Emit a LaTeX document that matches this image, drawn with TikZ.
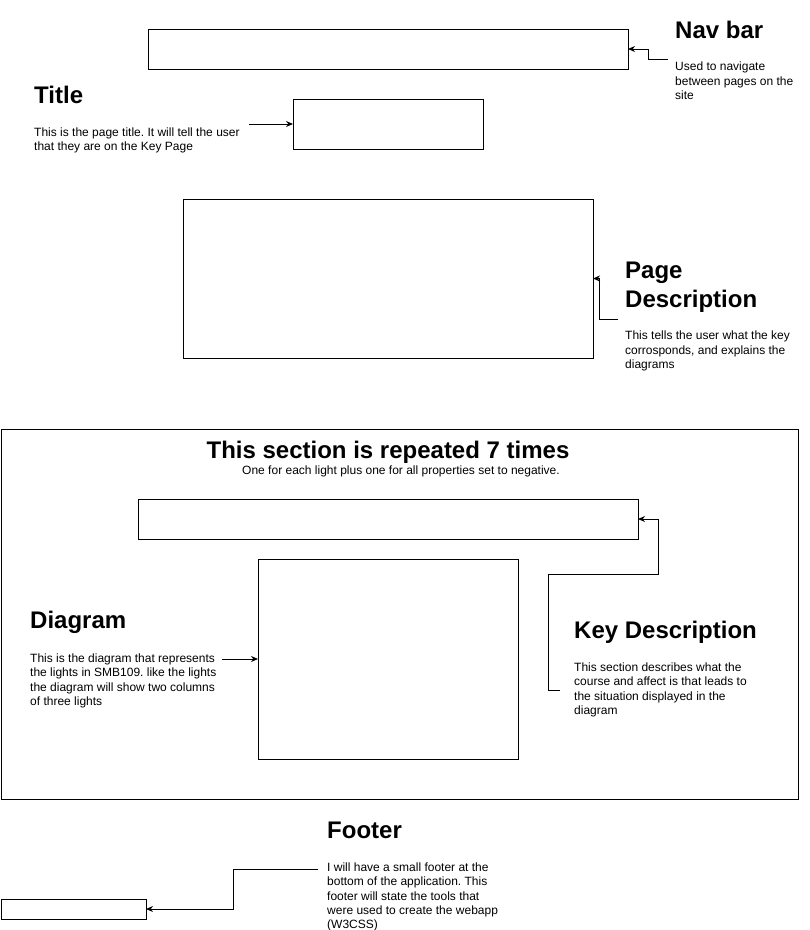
\documentclass[tikz,border=0pt]{standalone}
\usepackage{fontspec}
\setmainfont{Liberation Sans}
\usetikzlibrary{arrows.meta}
\frenchspacing

\begin{document}
\begin{tikzpicture}[x=1pt,y=-1pt,
  box/.style={draw,line width=1pt,inner sep=0pt,outer sep=0pt,anchor=north west},
  head/.style={inner sep=0pt,anchor=base west,font=\fontsize{24}{28.8}\selectfont\bfseries},
  body/.style={inner sep=0pt,anchor=north west,align=left,font=\fontsize{12}{14.4}\selectfont},
  link/.style={line width=1pt,-{Stealth[length=7pt,width=6pt]}}]
\useasboundingbox (0,0) rectangle (810,930);

% boxes
\node[box,minimum width=480,minimum height=40] (navbox) at (148,29) {};
\node[box,minimum width=190,minimum height=50] (titlebox) at (293,99) {};
\node[box,minimum width=410,minimum height=159] (pagebox) at (183,199) {};
\node[box,minimum width=797,minimum height=370] (section) at (1,429) {};
\node[box,minimum width=500,minimum height=40] (keybox) at (138,499) {};
\node[box,minimum width=260,minimum height=200] (diagbox) at (258,559) {};
\node[box,minimum width=145,minimum height=20] (footbox) at (1,899) {};

% headings and texts
\node[head] (navhead) at (675,38) {Nav bar};
\node[body] (navbody) at (675,62) {Used to navigate\\between pages on the\\site};

\node[head] (titlehead) at (34,103) {Title};
\node[body] (titlebody) at (34,127.3) {This is the page title. It will tell the user\\that they are on the Key Page};

\node[head,anchor=north west,align=left] (pagehead) at (625,262) {Page\\Description};
\node[body] (pagebody) at (625,331) {This tells the user what the key\\corrosponds, and explains the\\diagrams};

\node[head,anchor=base] (sechead) at (388,458) {This section is repeated 7 times};
\node[inner sep=0pt,anchor=base,font=\fontsize{12}{14.4}\selectfont] (secbody) at (401,474) {One for each light plus one for all properties set to negative.};

\node[head] (diaghead) at (30,628) {Diagram};
\node[body] (diagbody) at (30,653.3) {This is the diagram that represents\\the lights in SMB109. like the lights\\the diagram will show two columns\\of three lights};

\node[head] (keyhead) at (574,638) {Key Description};
\node[body] (keybody) at (574,662.3) {This section describes what the\\course and affect is that leads to\\the situation displayed in the\\diagram};

\node[head] (foothead) at (327,838) {Footer};
\node[body] (footbody) at (327,862.3) {I will have a small footer at the\\bottom of the application. This\\footer will state the tools that\\were used to create the webapp\\(W3CSS)};

% connectors
\coordinate (navin) at (668,59);
\coordinate (titlein) at (249,124);
\coordinate (pagein) at (618,319);
\coordinate (diagin) at (222,659);
\coordinate (keyin) at (560,690);
\coordinate (keybend) at (548,574);
\coordinate (footin) at (318,869);

\draw[link] (navin) -| ([xshift=20pt]navbox.east) -- (navbox.east);
\draw[link] (titlein) -- (titlebox.west);
\draw[link] (pagein) -| ([xshift=6pt]pagebox.east) -- (pagebox.east);
\draw[link] (diagin) -- (diagbox.west);
\draw[link] (keyin) -| (keybend) -| ([xshift=20pt]keybox.east) -- (keybox.east);
\draw[link] (footin) -| ([xshift=87pt]footbox.east) -- (footbox.east);
\end{tikzpicture}
\end{document}
